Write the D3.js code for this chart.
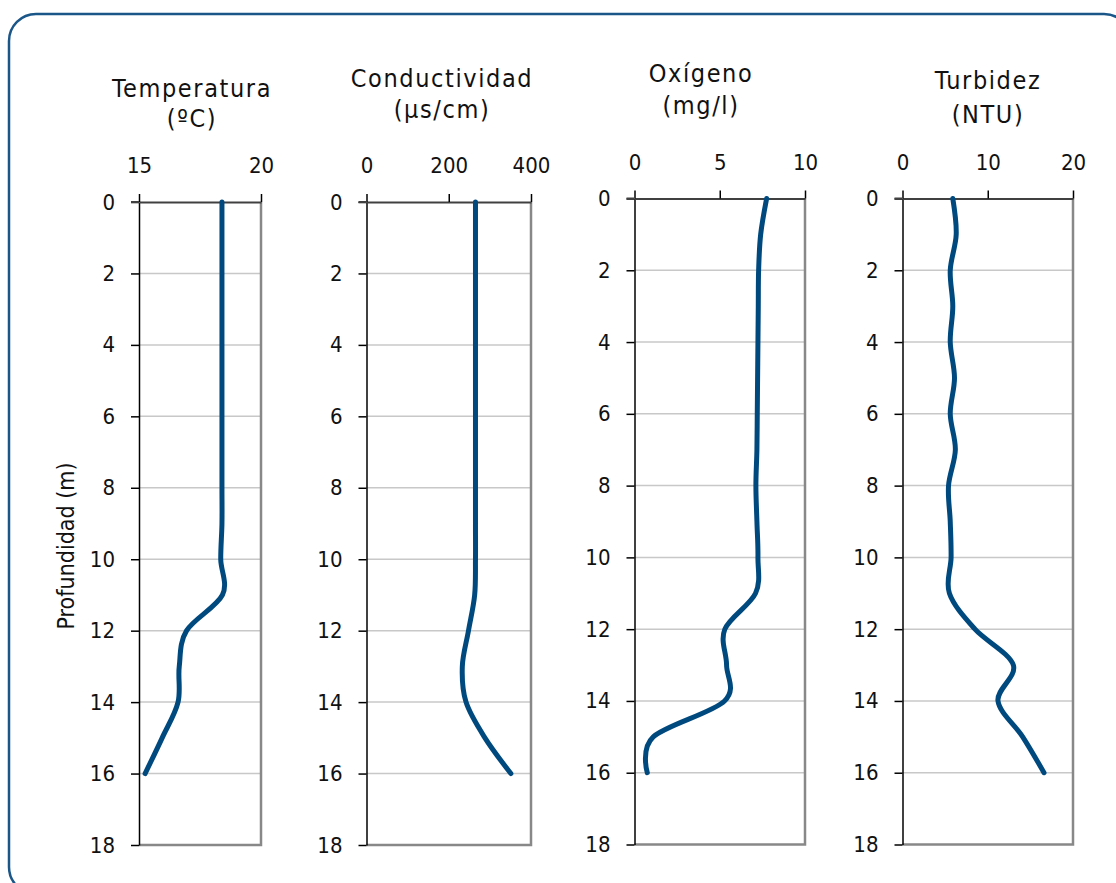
<!DOCTYPE html>
<html>
<head>
<meta charset="utf-8">
<script src="https://cdn.jsdelivr.net/npm/d3@7"></script>
<style>
  body { margin: 0; background: #fff; }
  svg { display: block; }
  text { font-family: 'DejaVu Sans Condensed', 'DejaVu Sans', sans-serif; fill: #111; }
</style>
</head>
<body>
<svg id="chart" width="1116" height="883"></svg>
<script>
// depth of each reading (m)
const depth = [0, 1, 2, 3, 4, 5, 6, 7, 8, 9, 10, 11, 12, 13, 14, 15, 16];

const temperatura = [18.4, 18.4, 18.4, 18.4, 18.4, 18.4, 18.4, 18.4, 18.4, 18.4, 18.35, 18.42, 16.95, 16.65, 16.6, 15.95, 15.25];
const conductividad = [265, 265, 265, 265, 265, 265, 265, 265, 265, 265, 265, 263, 248, 233, 242, 288, 351];
const oxigeno = [7.75, 7.4, 7.28, 7.26, 7.24, 7.22, 7.2, 7.18, 7.12, 7.18, 7.24, 7.1, 5.3, 5.4, 5.28, 1.1, 0.75];
const turbidez = [5.9, 6.3, 5.6, 5.9, 5.6, 6.1, 5.6, 6.2, 5.4, 5.6, 5.7, 5.5, 8.5, 13.0, 11.2, 14.1, 16.6];

const depthTicks = [0, 2, 4, 6, 8, 10, 12, 14, 16, 18];
const tempTicks = [15, 20];
const condTicks = [0, 200, 400];
const oxTicks = [0, 5, 10];
const turbTicks = [0, 10, 20];

const titles = [
  ['Temperatura', '(ºC)'],
  ['Conductividad', '(µs/cm)'],
  ['Oxígeno', '(mg/l)'],
  ['Turbidez', '(NTU)']
];
const series = [temperatura, conductividad, oxigeno, turbidez];
const xTicks = [tempTicks, condTicks, oxTicks, turbTicks];

// layout of each panel (pixels)
const panels = [
  { x0: 139, x1: 261, y0: 202, y1: 845, tx: 192, ty: [97, 127] },
  { x0: 366.5, x1: 531, y0: 202, y1: 845, tx: 442, ty: [87, 118] },
  { x0: 634.5, x1: 805, y0: 198.5, y1: 844.5, tx: 701, ty: [82, 114] },
  { x0: 902.5, x1: 1073, y0: 198.5, y1: 844.5, tx: 988, ty: [89, 123] }
];

const lineColor = '#00497e';
const svg = d3.select('#chart');

// outer frame
svg.append('rect')
  .attr('x', 9)
  .attr('y', 14)
  .attr('width', 1122)
  .attr('height', 880)
  .attr('rx', 27)
  .attr('fill', 'none')
  .attr('stroke', '#1b5689')
  .attr('stroke-width', 2.5);

// y title
svg.append('text')
  .attr('transform', 'translate(74,546) rotate(-90)')
  .attr('text-anchor', 'middle')
  .style('font-size', '23px')
  .text('Profundidad (m)');

panels.forEach((p, k) => {
  const ticks = xTicks[k];
  const x = d3.scaleLinear()
    .domain([ticks[0], ticks[ticks.length - 1]])
    .range([p.x0, p.x1]);
  const y = d3.scaleLinear()
    .domain([0, 18])
    .range([p.y0, p.y1]);

  const g = svg.append('g');

  // title
  g.selectAll('.title')
    .data(titles[k])
    .enter()
    .append('text')
    .attr('class', 'title')
    .attr('x', p.tx)
    .attr('y', (d, i) => p.ty[i])
    .attr('text-anchor', 'middle')
    .style('font-size', '25px')
    .style('letter-spacing', '1.6px')
    .text(d => d);

  // grid
  g.selectAll('.grid')
    .data(depthTicks.filter(d => d > 0 && d < 18))
    .enter()
    .append('line')
    .attr('x1', p.x0)
    .attr('x2', p.x1)
    .attr('y1', d => y(d))
    .attr('y2', d => y(d))
    .attr('stroke', '#c8c8c8')
    .attr('stroke-width', 1.5);

  // right and bottom border
  g.append('path')
    .attr('d', `M${p.x1},${p.y0}V${p.y1}H${p.x0}`)
    .attr('fill', 'none')
    .attr('stroke', '#888')
    .attr('stroke-width', 2.5);

  // left axis
  const yAxis = g.append('g')
    .attr('transform', `translate(${p.x0},0)`)
    .call(d3.axisLeft(y).tickValues(depthTicks).tickSize(8).tickPadding(16).tickSizeOuter(0));
  yAxis.select('.domain').attr('stroke', '#000').attr('stroke-width', 1.5);
  yAxis.selectAll('.tick line').attr('stroke', '#000').attr('stroke-width', 1.5);
  yAxis.selectAll('text').style('font-size', '22px').attr('fill', '#111');

  // top axis
  const xAxis = g.append('g')
    .attr('transform', `translate(0,${p.y0})`)
    .call(d3.axisTop(x).tickValues(ticks).tickFormat(d3.format('d'))
      .tickSize(8).tickPadding(21).tickSizeOuter(0));
  xAxis.select('.domain').attr('stroke', '#404040').attr('stroke-width', 2);
  xAxis.selectAll('.tick line').attr('stroke', '#000').attr('stroke-width', 1.5);
  xAxis.selectAll('text').style('font-size', '22px').attr('fill', '#111');
  g.append('line')
    .attr('x1', p.x0 - 8)
    .attr('x2', p.x0)
    .attr('y1', p.y0)
    .attr('y2', p.y0)
    .attr('stroke', '#404040')
    .attr('stroke-width', 2);

  // profile
  const line = d3.line()
    .x(d => x(d[1]))
    .y(d => y(d[0]))
    .curve(d3.curveCardinal.tension(0));
  g.append('path')
    .datum(depth.map((d, i) => [d, series[k][i]]))
    .attr('d', line)
    .attr('fill', 'none')
    .attr('stroke', lineColor)
    .attr('stroke-width', 5)
    .attr('stroke-linecap', 'round')
    .attr('stroke-linejoin', 'round');
});
</script>
</body>
</html>
